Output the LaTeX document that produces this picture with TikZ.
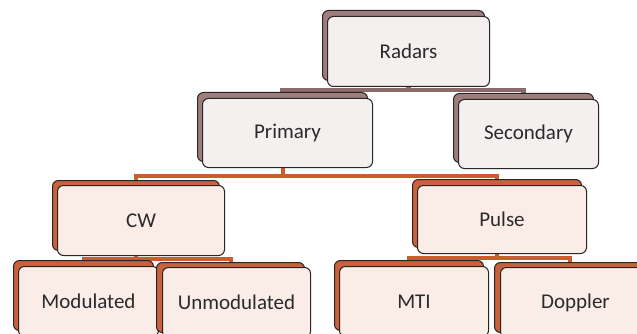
\documentclass[tikz,border=0pt]{standalone}
\usepackage{fontspec}
\setmainfont{Carlito}
\usetikzlibrary{calc}
\definecolor{shadowA}{HTML}{9C7E7E}
\definecolor{frontA}{HTML}{F4F0F0}
\definecolor{shadowB}{HTML}{C8623C}
\definecolor{frontB}{HTML}{FAEDE8}
\definecolor{edge}{HTML}{2E2424}
\definecolor{txt}{HTML}{2A2A2A}
\definecolor{barA}{HTML}{8A6A6A}
\definecolor{barB}{HTML}{CC5C2A}
\pgfdeclarelayer{bg}
\pgfdeclarelayer{paper}
\pgfsetlayers{paper,bg,main}
\begin{document}
\begin{tikzpicture}[x=1pt,y=-1pt,
  box/.style={rectangle, rounded corners=6pt, draw=edge, line width=1pt,
    inner sep=0pt, anchor=north west},
  shA/.style={box, fill=shadowA},
  shB/.style={box, fill=shadowB},
  frA/.style={box, fill=frontA, text=txt, font=\fontsize{21}{25}\selectfont},
  frB/.style={box, fill=frontB, text=txt, font=\fontsize{21}{25}\selectfont},
  linkA/.style={draw=barA, line width=4.5pt},
  linkB/.style={draw=barB, line width=4pt}]
\useasboundingbox (0,0) rectangle (637,334);
\clip (0,0) rectangle (637,334);
\begin{pgfonlayer}{paper}
\fill[white] (0,0) rectangle (637,334);
\end{pgfonlayer}

% level 1
\node[shA, minimum width=162pt, minimum height=70pt] (radS) at (322,10) {};
\node[frA, minimum width=162pt, minimum height=70pt] (rad) at (327,16) {Radars};
% level 2
\node[shA, minimum width=170pt, minimum height=69pt] (priS) at (197,92) {};
\node[frA, minimum width=170pt, minimum height=69pt] (pri) at (202,98) {Primary};
\node[shA, minimum width=140pt, minimum height=69pt] (secS) at (453,93) {};
\node[frA, minimum width=140pt, minimum height=69pt] (sec) at (458,99) {Secondary};
% level 3
\node[shB, minimum width=167pt, minimum height=70pt] (cwS) at (52,180) {};
\node[frB, minimum width=167pt, minimum height=70pt] (cw) at (57,185) {CW};
\node[shB, minimum width=169pt, minimum height=68pt] (puS) at (412,179) {};
\node[frB, minimum width=169pt, minimum height=68pt] (pu) at (417,185) {Pulse};
% level 4
\node[shB, minimum width=140pt, minimum height=70pt] (modS) at (13,260) {};
\node[frB, minimum width=140pt, minimum height=70pt] (mod) at (18,266) {Modulated};
\node[shB, minimum width=148pt, minimum height=70pt] (unS) at (156,262) {};
\node[frB, minimum width=148pt, minimum height=70pt] (un) at (162,267) {Unmodulated};
\node[shB, minimum width=149pt, minimum height=70pt] (mtiS) at (334,260) {};
\node[frB, minimum width=149pt, minimum height=70pt] (mti) at (339,266) {MTI};
\node[shB, minimum width=150pt, minimum height=70pt] (dopS) at (494,262) {};
\node[frB, minimum width=150pt, minimum height=70pt] (dop) at (500,267) {Doppler};

\coordinate (j1) at ($(rad.south)+(0,3)$);
\coordinate (j2) at ($(priS.south)+(0,14)$);
\coordinate (j3) at ($(cwS.south)+(0,8)$);
\coordinate (j4) at ($(puS.south)+(0,10)$);

\begin{pgfonlayer}{bg}
\draw[linkA] (rad.south) -- (j1);
\draw[linkA] (priS.north) |- (j1) -| (secS.north);
\draw[linkB] (priS.south) -- (j2);
\draw[linkB] (cwS.north) |- (j2) -| (puS.north);
\draw[linkB] (cwS.south) -- (j3);
\draw[linkB] (modS.north) |- (j3) -| (unS.north);
\draw[linkB] (puS.south) -- (j4);
\draw[linkB] (mtiS.north) |- (j4) -| (dopS.north);
\end{pgfonlayer}
\end{tikzpicture}
\end{document}
